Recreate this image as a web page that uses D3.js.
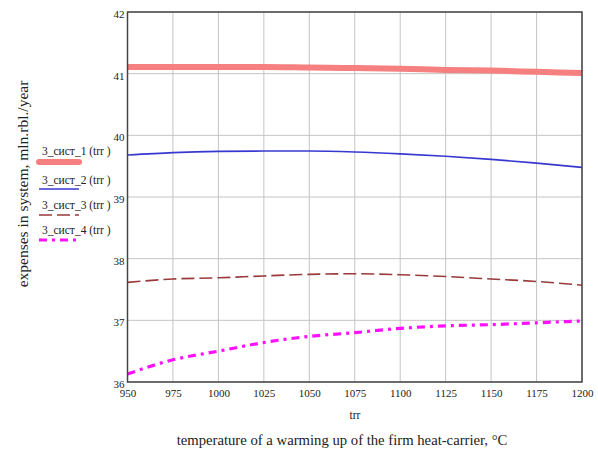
<!DOCTYPE html>
<html>
<head>
<meta charset="utf-8">
<script src="https://cdn.jsdelivr.net/npm/d3@7"></script>
<style>
  html, body { margin: 0; padding: 0; background: #fff; }
  svg { display: block; }
  svg text { font-family: "Liberation Serif", "DejaVu Serif", serif; }
</style>
</head>
<body>
<svg id="chart" width="598" height="453"></svg>
<script>
const temps = [950, 975, 1000, 1025, 1050, 1075, 1100, 1125, 1150, 1175, 1200];
const sys1 = [41.11, 41.11, 41.11, 41.11, 41.10, 41.09, 41.08, 41.06, 41.05, 41.03, 41.01];
const sys2 = [39.68, 39.72, 39.74, 39.745, 39.745, 39.73, 39.70, 39.66, 39.61, 39.55, 39.48];
const sys3 = [37.615, 37.67, 37.69, 37.72, 37.745, 37.755, 37.74, 37.71, 37.67, 37.63, 37.57];
const sys4 = [36.13, 36.36, 36.50, 36.64, 36.74, 36.80, 36.87, 36.91, 36.93, 36.96, 36.99];
const xTicks = [950, 975, 1000, 1025, 1050, 1075, 1100, 1125, 1150, 1175, 1200];
const yTicks = [36, 37, 38, 39, 40, 41, 42];
const seriesNames = ["3_сист_1", "3_сист_2", "3_сист_3", "3_сист_4"];

const svg = d3.select("#chart");
const pL = 127.5, pR = 582, pT = 12, pB = 382;
const serif = '"Liberation Serif", "DejaVu Serif", serif';

const x = d3.scaleLinear().domain([950, 1200]).range([pL, pR]);
const y = d3.scaleLinear().domain([36, 42]).range([pB, pT]);

// grid
const grid = svg.append("g");
grid.selectAll("line.v").data(xTicks).enter().append("line")
  .attr("x1", d => x(d)).attr("x2", d => x(d))
  .attr("y1", pT).attr("y2", pB)
  .attr("stroke", "#c4c4c4").attr("stroke-width", 1);
grid.selectAll("line.h").data(yTicks).enter().append("line")
  .attr("x1", pL).attr("x2", pR)
  .attr("y1", d => y(d)).attr("y2", d => y(d))
  .attr("stroke", "#c4c4c4").attr("stroke-width", 1);

const styles = [
  { color: "#f67f7f", width: 6, dash: null },
  { color: "#3838d0", width: 1.6, dash: null },
  { color: "#9a3a3a", width: 1.6, dash: "13,5" },
  { color: "#ff10ff", width: 3.2, dash: "8,5,3,5" }
];
const data = [sys1, sys2, sys3, sys4];

const line = d3.line().x((d, i) => x(temps[i])).y(d => y(d)).curve(d3.curveMonotoneX);

const plot = svg.append("g");
plot.append("clipPath").attr("id", "clip").append("rect")
  .attr("x", pL).attr("y", pT).attr("width", pR - pL).attr("height", pB - pT);
data.forEach((s, k) => {
  plot.append("path").datum(s)
    .attr("d", line)
    .attr("fill", "none")
    .attr("stroke", styles[k].color)
    .attr("stroke-width", styles[k].width)
    .attr("stroke-dasharray", styles[k].dash)
    .attr("clip-path", "url(#clip)");
});

// frame
svg.append("rect").attr("x", pL).attr("y", pT)
  .attr("width", pR - pL).attr("height", pB - pT)
  .attr("fill", "none").attr("stroke", "#444").attr("stroke-width", 1.5);

// axes via d3 (text only)
const xAxis = d3.axisBottom(x).tickValues(xTicks).tickSize(0).tickPadding(0).tickFormat(d3.format("d"));
const gx = svg.append("g").attr("transform", `translate(0,${pB + 7})`).call(xAxis)
  .attr("font-family", null);
gx.select(".domain").remove();
gx.selectAll("text").attr("font-size", 11).attr("fill", "#222")
  .style("font-family", serif).attr("dy", "0.75em");

const yAxis = d3.axisLeft(y).tickValues(yTicks).tickSize(0).tickPadding(0).tickFormat(d3.format("d"));
const gy = svg.append("g").attr("transform", `translate(${pL - 3},2)`).call(yAxis)
  .attr("font-family", null);
gy.select(".domain").remove();
gy.selectAll("text").attr("font-size", 11).attr("fill", "#222")
  .style("font-family", serif);

// axis titles
svg.append("text").attr("x", 355).attr("y", 419)
  .attr("text-anchor", "middle").attr("font-size", 11.5).attr("fill", "#222").text("trr");
svg.append("text").attr("x", 342).attr("y", 445)
  .attr("text-anchor", "middle").attr("font-size", 14.7).attr("fill", "#222")
  .text("temperature of a warming up of the firm heat-carrier, °C");
svg.append("text")
  .attr("transform", "translate(28,184) rotate(-90)")
  .attr("text-anchor", "middle").attr("font-size", 15.5).attr("fill", "#222")
  .text("expenses in system, mln.rbl./year");

// legend
const legY = [155, 184, 209, 234];
const lineY = [162, 189, 215, 240];
seriesNames.forEach((n, k) => {
  svg.append("text").attr("x", 42).attr("y", legY[k])
    .attr("font-size", 11.5).attr("fill", "#222")
    .attr("xml:space", "preserve")
    .text(n + " (trr )");
  svg.append("line").attr("x1", 39).attr("x2", 79)
    .attr("y1", lineY[k]).attr("y2", lineY[k])
    .attr("stroke", styles[k].color)
    .attr("stroke-width", styles[k].width)
    .attr("stroke-dasharray", styles[k].dash)
    .attr("stroke-linecap", k === 0 ? "round" : "butt");
});
</script>
</body>
</html>
